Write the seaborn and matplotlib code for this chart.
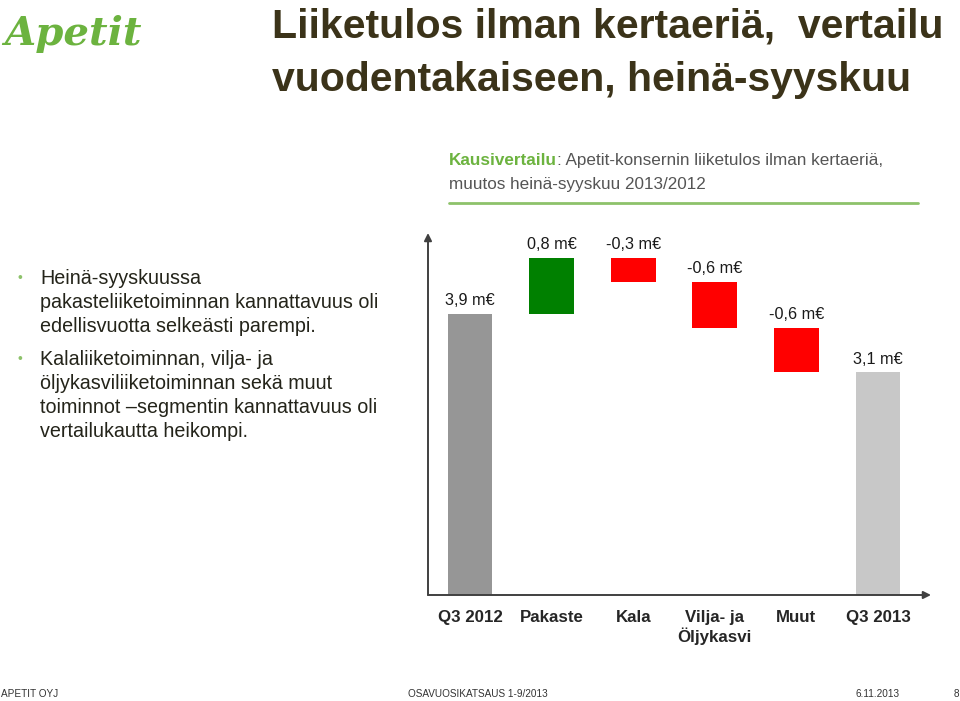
import matplotlib
matplotlib.use("Agg")
import matplotlib.pyplot as plt
import seaborn as sns
import pandas as pd

# ---------------- data ----------------
categories = ["Q3 2012", "Pakaste", "Kala", "Vilja- ja\nÖljykasvi", "Muut", "Q3 2013"]
steps = [3.91, 0.78, -0.33, -0.64, -0.62, 3.10]
kinds = ["total", "delta", "delta", "delta", "delta", "total"]
value_labels = ["3,9 m€", "0,8 m€", "-0,3 m€", "-0,6 m€", "-0,6 m€", "3,1 m€"]
bar_colors = ["#969696", "#008000", "#FF0000", "#FF0000", "#FF0000", "#C8C8C8"]

title_lines = ["Liiketulos ilman kertaeriä,  vertailu", "vuodentakaiseen, heinä-syyskuu"]
subtitle_bold = "Kausivertailu"
subtitle_rest = ": Apetit-konsernin liiketulos ilman kertaeriä,"
subtitle_line2 = "muutos heinä-syyskuu 2013/2012"
bullets = [
    ["Heinä-syyskuussa", "pakasteliiketoiminnan kannattavuus oli", "edellisvuotta selkeästi parempi."],
    ["Kalaliiketoiminnan, vilja- ja", "öljykasviliiketoiminnan sekä muut",
     "toiminnot \u2013segmentin kannattavuus oli", "vertailukautta heikompi."],
]
footer_left = "APETIT OYJ"
footer_mid = "OSAVUOSIKATSAUS 1-9/2013"
footer_date = "6.11.2013"
footer_page = "8"
logo_text = "Apetit"

# ---------------- style ----------------
sns.set_style("white")
plt.rcParams["font.family"] = ["Liberation Sans", "DejaVu Sans"]

W, H = 960, 701
fig = plt.figure(figsize=(W / 100, H / 100), dpi=100)
fig.patch.set_facecolor("white")

def fx(px):
    return px / W

def fy(py):
    return 1 - py / H

# ---------------- waterfall ----------------
bottoms = []
running = 0.0
for s, k in zip(steps, kinds):
    if k == "total":
        bottoms.append(0.0)
        running = s
    else:
        bottoms.append(running)
        running += s

df = pd.DataFrame({"cat": categories, "value": steps, "bottom": bottoms})

ax_left, ax_right, ax_bottom, ax_top = 428, 931, 595, 233
ax = fig.add_axes([fx(ax_left), 1 - ax_bottom / H, (ax_right - ax_left) / W, (ax_bottom - ax_top) / H])
ax.set_facecolor("none")

for i, row in df.iterrows():
    sns.barplot(x=[row["cat"]], y=[row["value"]], order=categories, color=bar_colors[i],
                saturation=1, width=0.55, bottom=row["bottom"], ax=ax, errorbar=None,
                linewidth=0)

px_per_unit = 71.9
ax.set_xlim(-0.515, 5.65)
ax.set_ylim(0, (ax_bottom - ax_top) / px_per_unit)
for sp in ax.spines.values():
    sp.set_visible(False)
ax.set_yticks([])
ax.set_xlabel("")
ax.set_ylabel("")
ax.set_xticks(range(len(categories)))
ax.set_xticklabels(categories, fontsize=12.2, fontweight="bold", color="#262626", linespacing=1.15)
ax.tick_params(axis="x", length=0, pad=11)

for i, row in df.iterrows():
    top = max(row["bottom"], row["bottom"] + row["value"])
    ax.annotate(value_labels[i], xy=(i, top), xytext=(0, 4), textcoords="offset points",
                ha="center", va="bottom", fontsize=11.7, color="#1a1a1a")

arrow_kw = dict(arrowstyle="-|>", color="#404040", lw=1.4, mutation_scale=11, shrinkA=0, shrinkB=0)
ax.annotate("", xy=(0, 1), xytext=(0, 0), xycoords="axes fraction", arrowprops=arrow_kw)
ax.annotate("", xy=(1, 0), xytext=(0, 0), xycoords="axes fraction", arrowprops=arrow_kw)

# ---------------- title & texts ----------------
title_color = "#3B3319"
fig.text(fx(272), fy(38), title_lines[0], fontsize=29.5, fontweight="bold", color=title_color, va="baseline")
fig.text(fx(272), fy(91), title_lines[1], fontsize=29.5, fontweight="bold", color=title_color, va="baseline")

fig.text(fx(4), fy(45), logo_text, fontsize=29, style="italic", fontweight="bold", color="#6CB33F",
         family=["DejaVu Serif"], va="baseline")

green = "#6CB33F"
sub_gray = "#555555"
t_bold = fig.text(fx(449), fy(165), subtitle_bold, fontsize=12.3, fontweight="bold", color=green, va="baseline")
renderer = fig.canvas.get_renderer()
bb = t_bold.get_window_extent(renderer)
fig.text(bb.x1 / W, fy(165), subtitle_rest, fontsize=12.3, color=sub_gray, va="baseline")
fig.text(fx(449), fy(189), subtitle_line2, fontsize=12.3, color=sub_gray, va="baseline")
fig.add_artist(plt.Line2D([fx(449), fx(918)], [fy(203), fy(203)], color="#8DC26A", lw=2))

text_color = "#24241A"
baseline = 284
for group in bullets:
    fig.text(fx(18), fy(baseline - 2), "\u2022", fontsize=10, color="#8DC26A", va="baseline")
    for line in group:
        fig.text(fx(40), fy(baseline), line, fontsize=14.2, color=text_color, va="baseline")
        baseline += 24
    baseline += 9

foot_kw = dict(fontsize=7.2, color="#333333", va="baseline")
fig.text(fx(1), fy(697), footer_left, **foot_kw)
fig.text(fx(408), fy(697), footer_mid, **foot_kw)
fig.text(fx(855), fy(697), footer_date, **foot_kw)
fig.text(fx(954), fy(697), footer_page, **foot_kw)

fig.savefig("out.png", dpi=100, facecolor="white")
